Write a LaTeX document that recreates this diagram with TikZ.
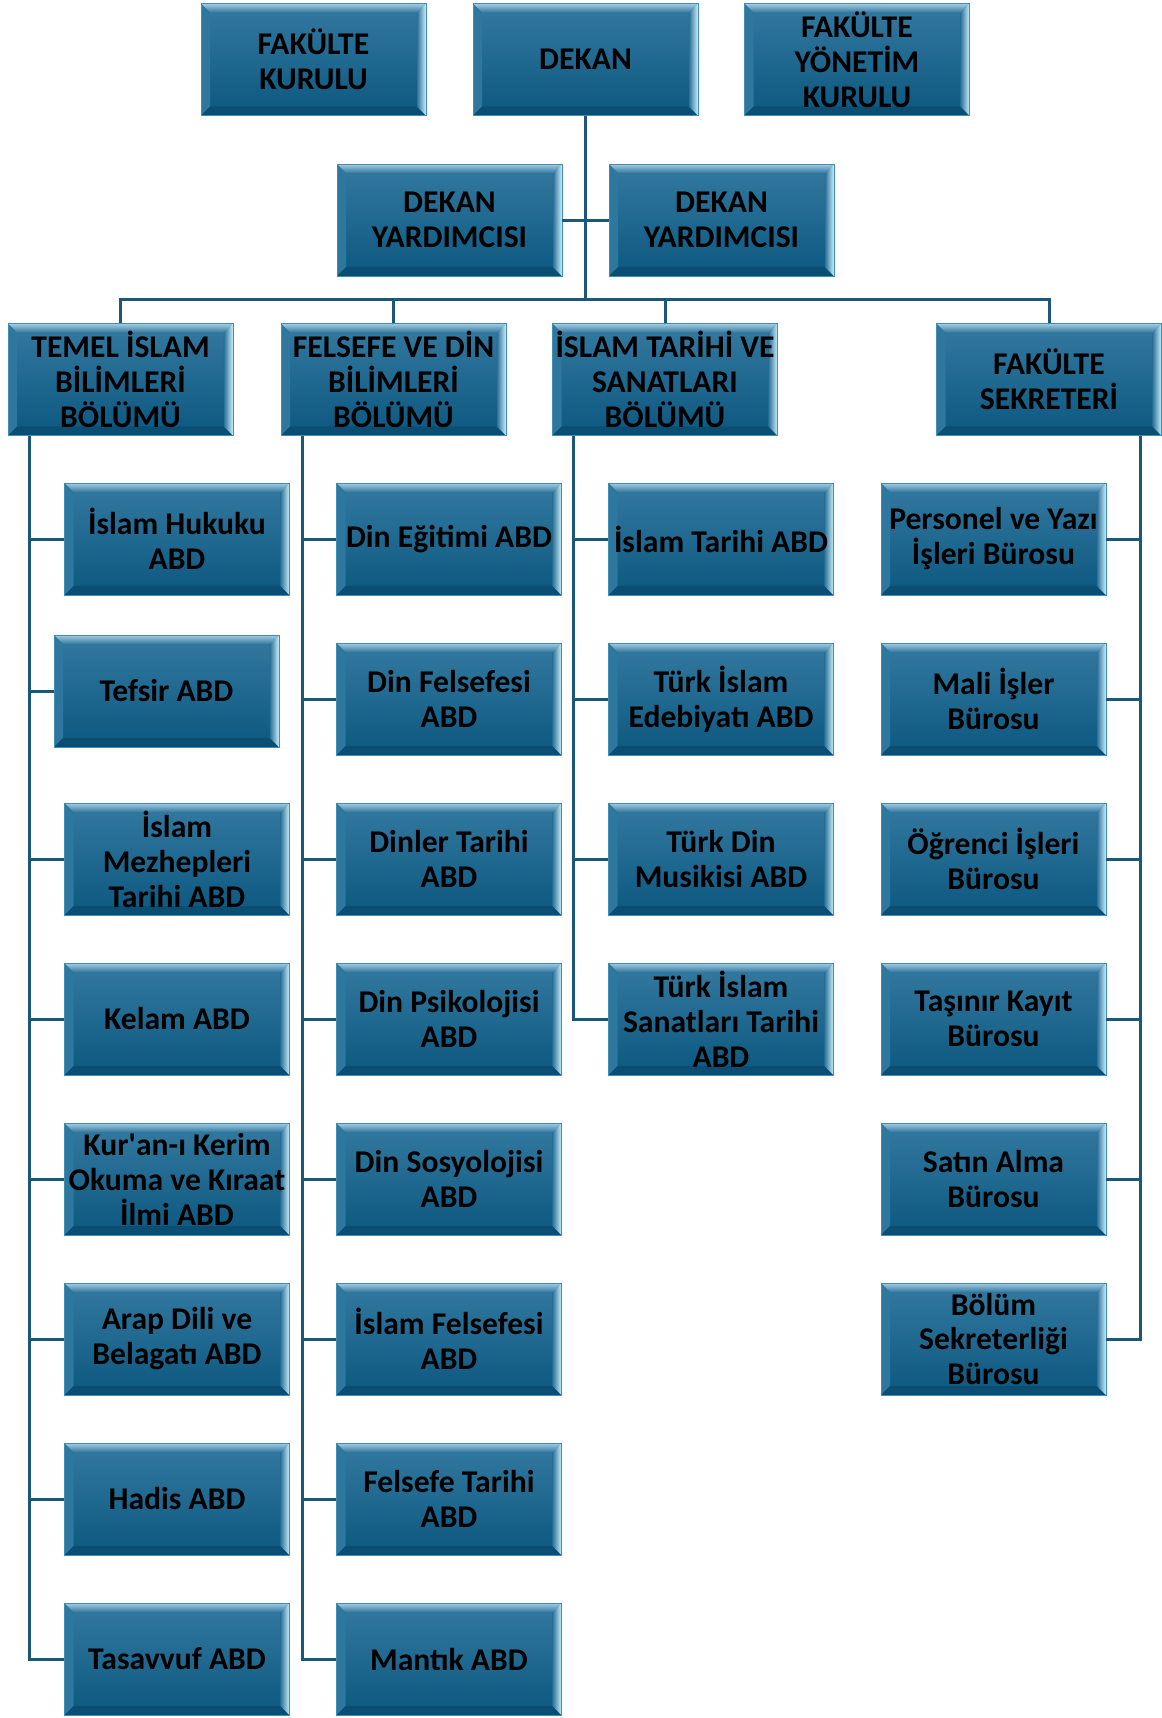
\documentclass[tikz,border=0pt]{standalone}
\usepackage{fontspec}
\setmainfont{Carlito}
\usetikzlibrary{calc}

\definecolor{boxtop}{HTML}{3479A0}
\definecolor{boxbot}{HTML}{0C5880}
\definecolor{boxedge}{HTML}{3F8EB6}
\definecolor{bevtop}{HTML}{A3CDE2}
\definecolor{bevright}{HTML}{CDEFFA}
\definecolor{bevleft}{HTML}{2E779E}
\definecolor{bevbot}{HTML}{0A4F73}
\definecolor{linecol}{HTML}{1B5878}

\newcommand{\orgfont}{\fontsize{18}{19.9}\selectfont\bfseries}

\tikzset{
  orgbox/.style={draw=boxedge, line width=0.5pt, minimum width=4.5cm, minimum height=2.24cm,
    inner sep=0pt, align=center, font=\orgfont, top color=boxtop, bottom color=boxbot,
    path picture={
      \coordinate (a) at (path picture bounding box.north west);
      \coordinate (b) at (path picture bounding box.north east);
      \coordinate (c) at (path picture bounding box.south east);
      \coordinate (d) at (path picture bounding box.south west);
      \fill[bevleft] (a) -- (d) -- ($(d)+(9,-9)$) -- ($(a)+(9,9)$) -- cycle;
      \fill[bevbot] (d) -- (c) -- ($(c)+(-9,-9)$) -- ($(d)+(9,-9)$) -- cycle;
      \shade[left color=boxtop!80!boxbot, right color=bevright] (b) -- (c) -- ($(c)+(-9,-9)$) -- ($(b)+(-9,9)$) -- cycle;
      \shade[top color=bevtop, bottom color=boxtop] (a) -- (b) -- ($(b)+(-9,9)$) -- ($(a)+(9,9)$) -- cycle;
    }},
  link/.style={draw=linecol, line width=0.06cm}
}

\begin{document}
\begin{tikzpicture}[x=0.02cm, y=-0.02cm]
  \useasboundingbox (0,0) rectangle (1161,1718);

  % top rows
  \node[orgbox] (fk) at (313.5,59.5) {FAKÜLTE\\KURULU};
  \node[orgbox] (dekan) at (585.5,59.5) {DEKAN};
  \node[orgbox] (fyk) at (857,59.5) {FAKÜLTE\\YÖNETİM\\KURULU};
  \node[orgbox] (dy1) at (449.5,220) {DEKAN\\YARDIMCISI};
  \node[orgbox] (dy2) at (721.5,220) {DEKAN\\YARDIMCISI};

  % departments
  \node[orgbox] (temel) at (120.5,379.5) {TEMEL İSLAM\\BİLİMLERİ\\BÖLÜMÜ};
  \node[orgbox] (felsefe) at (393.5,379.5) {FELSEFE VE DİN\\BİLİMLERİ\\BÖLÜMÜ};
  \node[orgbox] (islam) at (665,379.5) {İSLAM TARİHİ VE\\SANATLARI\\BÖLÜMÜ};
  \node[orgbox] (sekr) at (1049,379.5) {FAKÜLTE\\SEKRETERİ};

  % anabilim dallari
  \foreach \k/\txt in {1/{İslam Hukuku\\ABD}, 3/{İslam\\Mezhepleri\\Tarihi ABD}, 4/{Kelam ABD},
      5/{Kur\textquotesingle an-ı Kerim\\Okuma ve Kıraat\\İlmi ABD}, 6/{Arap Dili ve\\Belagatı ABD}, 7/{Hadis ABD}, 8/{Tasavvuf ABD}}
    \node[orgbox] (t\k) at (177,{539+160*(\k-1)}) {\txt};
  \node[orgbox] (t2) at (166.5,691) {Tefsir ABD};
  \foreach \k/\txt in {1/{Din Eğitimi ABD}, 2/{Din Felsefesi\\ABD}, 3/{Dinler Tarihi\\ABD}, 4/{Din Psikolojisi\\ABD},
      5/{Din Sosyolojisi\\ABD}, 6/{İslam Felsefesi\\ABD}, 7/{Felsefe Tarihi\\ABD}, 8/{Mantık ABD}}
    \node[orgbox] (f\k) at (449,{539+160*(\k-1)}) {\txt};
  \foreach \k/\txt in {1/{İslam Tarihi ABD}, 2/{Türk İslam\\Edebiyatı ABD}, 3/{Türk Din\\Musikisi ABD},
      4/{Türk İslam\\Sanatları Tarihi\\ABD}}
    \node[orgbox] (i\k) at (721,{539+160*(\k-1)}) {\txt};
  \foreach \k/\txt in {1/{Personel ve Yazı\\İşleri Bürosu}, 2/{Mali İşler\\Bürosu}, 3/{Öğrenci İşleri\\Bürosu},
      4/{Taşınır Kayıt\\Bürosu}, 5/{Satın Alma\\Bürosu}, 6/{Bölüm\\Sekreterliği\\Bürosu}}
    \node[orgbox] (s\k) at (993.5,{539+160*(\k-1)}) {\txt};

  % connectors
  \coordinate (bus) at (585.5,299);
  \draw[link] (dekan.south) -- (bus);
  \draw[link] (dy1.east) -- (dy2.west);
  \draw[link] (temel.north) |- (bus) -| (sekr.north);
  \draw[link] (felsefe.north) -- (felsefe.north |- bus);
  \draw[link] (islam.north) -- (islam.north |- bus);

  \coordinate (tsp) at ($(temel.south west)+(22,0)$);
  \coordinate (fsp) at ($(felsefe.south west)+(22,0)$);
  \coordinate (isp) at ($(islam.south west)+(21,0)$);
  \coordinate (ssp) at ($(sekr.south east)+(-21,0)$);
  \draw[link] (tsp) |- (t8.west);
  \draw[link] (fsp) |- (f8.west);
  \draw[link] (isp) |- (i4.west);
  \draw[link] (ssp) |- (s6.east);
  \foreach \k in {1,...,7} {
    \draw[link] (t\k.west) -- (t\k.west -| tsp);
    \draw[link] (f\k.west) -- (f\k.west -| fsp);
  }
  \foreach \k in {1,2,3} \draw[link] (i\k.west) -- (i\k.west -| isp);
  \foreach \k in {1,...,5} \draw[link] (s\k.east) -- (s\k.east -| ssp);
\end{tikzpicture}
\end{document}
